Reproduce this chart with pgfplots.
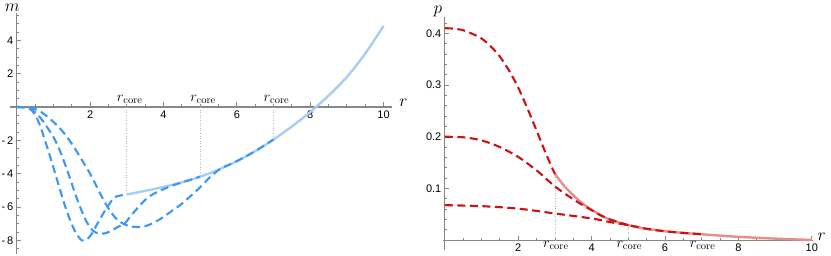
\documentclass[border=0pt]{standalone}
\usepackage{pgfplots}
\pgfplotsset{compat=1.18}
\usepackage{fontspec}
\newfontfamily\ticksf{Liberation Sans}
\definecolor{bdash}{RGB}{60,152,242}
\definecolor{bsolid}{RGB}{166,206,245}
\definecolor{rdash}{RGB}{204,18,18}
\definecolor{rsolid}{RGB}{232,140,140}
\definecolor{axgray}{RGB}{135,135,135}

\pgfplotstableread{
x y
3.0 -5.25
3.5 -5.03
4.0 -4.80
4.5 -4.52
5.0 -4.18
5.5 -3.76
6.0 -3.25
6.5 -2.65
7.0 -1.95
7.5 -1.17
8.0 -0.30
8.5 0.68
9.0 1.80
9.5 3.20
10.0 4.86
}\msolid

\pgfplotstableread{
x y
0 0
0.2 -0.02
0.35 -0.1
0.5 -0.45
0.65 -1.2
0.77 -2.0
0.9 -2.9
1.05 -4.0
1.2 -5.1
1.32 -5.95
1.45 -6.75
1.6 -7.5
1.77 -8.0
1.9 -7.95
2.0 -7.75
2.09 -7.44
2.2 -7.0
2.35 -6.42
2.5 -5.9
2.65 -5.45
2.8 -5.32
3.0 -5.25
}\mA

\pgfplotstableread{
x y
0 0
0.3 -0.05
0.5 -0.3
0.7 -0.8
0.9 -1.45
1.05 -2.0
1.2 -2.75
1.41 -4.0
1.6 -5.25
1.73 -6.0
1.86 -6.7
2.0 -7.22
2.09 -7.44
2.2 -7.57
2.32 -7.6
2.45 -7.55
2.6 -7.4
2.75 -7.2
2.93 -7.02
3.05 -6.7
3.2 -6.3
3.36 -5.9
3.5 -5.58
3.64 -5.33
3.8 -5.13
4.0 -4.93
4.26 -4.70
4.5 -4.52
4.75 -4.36
5.0 -4.18
}\mB

\pgfplotstableread{
x y
0 0
0.3 -0.03
0.5 -0.12
0.7 -0.35
0.9 -0.7
1.1 -1.1
1.3 -1.6
1.5 -2.2
1.7 -2.9
1.85 -3.45
2.0 -4.0
2.15 -4.65
2.3 -5.3
2.45 -5.9
2.6 -6.4
2.75 -6.78
2.93 -7.03
3.1 -7.16
3.3 -7.2
3.5 -7.15
3.7 -6.98
3.9 -6.74
4.1 -6.44
4.3 -6.12
4.45 -5.9
4.7 -5.42
5.0 -4.82
5.25 -4.25
5.54 -3.72
5.75 -3.5
6.0 -3.25
6.5 -2.65
7.0 -1.95
}\mC

\pgfplotstableread{
x y
3.0 0.128
3.25 0.105
3.5 0.087
3.75 0.071
4.0 0.059
4.25 0.048
4.5 0.040
5.0 0.029
5.5 0.022
6.0 0.0172
6.5 0.014
7.0 0.0115
7.5 0.0088
8.0 0.0065
8.5 0.0047
9.0 0.003
9.5 0.0016
10.0 0.0005
}\psolid

\pgfplotstableread{
x y
0 0.410
0.25 0.409
0.5 0.406
0.75 0.399
1.0 0.390
1.25 0.375
1.5 0.355
1.75 0.328
2.0 0.295
2.25 0.255
2.5 0.212
2.75 0.168
3.0 0.128
}\pA

\pgfplotstableread{
x y
0 0.200
0.5 0.199
1.0 0.193
1.5 0.180
2.0 0.161
2.5 0.135
3.0 0.104
3.5 0.079
3.9 0.062
4.25 0.048
4.5 0.040
5.0 0.029
}\pB

\pgfplotstableread{
x y
0 0.0677
1.0 0.0658
2.0 0.061
3.0 0.0516
4.0 0.042
4.5 0.035
5.0 0.029
5.5 0.022
6.0 0.0172
6.5 0.014
7.0 0.0115
}\pC

\tikzset{rc/.style={inner sep=0pt, font=\fontsize{15}{15}\selectfont}}
\pgfplotsset{
  mystyle/.style={
    scale only axis, axis lines=middle,
    axis line style={axgray, line width=1.1pt, -},
    tick align=inside, major tick length=4.5pt, minor tick length=2.5pt,
    tick style={axgray, line width=0.8pt},
    tick label style={font=\fontsize{11}{11}\selectfont\ticksf},
    /pgf/number format/assume math mode=true,
    x label style={at={(current axis.right of origin)}, anchor=base west, inner sep=0pt, font=\fontsize{18}{18}\selectfont},
    y label style={at={(current axis.above origin)}, anchor=base, inner sep=0pt, font=\fontsize{17}{17}\selectfont},
    clip=false,
  },
  bd/.style={bdash, line width=2.1pt, dash pattern=on 8pt off 4.5pt, smooth},
  rd/.style={rdash, line width=2.1pt, dash pattern=on 8pt off 4.5pt, smooth},
  dl/.style={gray!55, dotted, line width=0.6pt},
}

\begin{document}
\begin{tikzpicture}
\useasboundingbox (0,0) rectangle (831pt,255pt);
\begin{axis}[mystyle, at={(10pt,1.3pt)}, anchor=south west,
  width=382pt, height=240.9pt,
  xmin=-0.183, xmax=10.23, ymin=-8.8, ymax=5.65,
  xtick={2,4,6,8,10}, ytick={-8,-6,-4,-2,2,4},
  yticklabels={-\,8,-\,6,-\,4,-\,2,2,4},
  minor xtick={0.5,1,...,10}, minor ytick={-8.5,-8,...,5.5},
  xlabel={$r$}, ylabel={$m$},
  x label style={xshift=7pt}, y label style={xshift=-4.5pt, yshift=1pt}]
\addplot[dl] coordinates {(3,0) (3,-5.25)};
\addplot[dl] coordinates {(5,0) (5,-4.18)};
\addplot[dl] coordinates {(7,0) (7,-1.95)};
\addplot[bsolid, line width=2.4pt, smooth] table {\msolid};
\addplot[bd] table {\mA};
\addplot[bd] table {\mB};
\addplot[bd] table {\mC};
\node[rc, anchor=south, yshift=3.5pt, xshift=3pt] at (axis cs:3,0) {$r_{\mathrm{core}}$};
\node[rc, anchor=south, yshift=3.5pt, xshift=3pt] at (axis cs:5,0) {$r_{\mathrm{core}}$};
\node[rc, anchor=south, yshift=3.5pt, xshift=3pt] at (axis cs:7,0) {$r_{\mathrm{core}}$};
\end{axis}

\begin{axis}[mystyle, at={(443pt,5pt)}, anchor=south west,
  width=370.3pt, height=232.7pt,
  xmin=-0.05, xmax=10.04, ymin=-0.019, ymax=0.431,
  xtick={2,4,6,8,10}, ytick={0.1,0.2,0.3,0.4},
  yticklabels={0.1,0.2,0.3,0.4},
  minor xtick={0.5,1,...,10}, minor ytick={0.02,0.04,...,0.42},
  xlabel={$r$}, ylabel={$p$},
  x label style={xshift=4pt}, y label style={xshift=-7pt, yshift=4pt}]
\addplot[dl] coordinates {(3,0) (3,0.128)};
\addplot[dl] coordinates {(5,0) (5,0.029)};
\addplot[dl] coordinates {(7,0) (7,0.0115)};
\addplot[rsolid, line width=2.4pt, smooth] table {\psolid};
\addplot[rd] table {\pA};
\addplot[rd] table {\pB};
\addplot[rd] table {\pC};
\node[rc, anchor=north, yshift=-0.5pt, xshift=1pt] at (axis cs:3,0) {$r_{\mathrm{core}}$};
\node[rc, anchor=north, yshift=-0.5pt, xshift=1pt] at (axis cs:5,0) {$r_{\mathrm{core}}$};
\node[rc, anchor=north, yshift=-0.5pt, xshift=1pt] at (axis cs:7,0) {$r_{\mathrm{core}}$};
\end{axis}
\end{tikzpicture}
\end{document}
